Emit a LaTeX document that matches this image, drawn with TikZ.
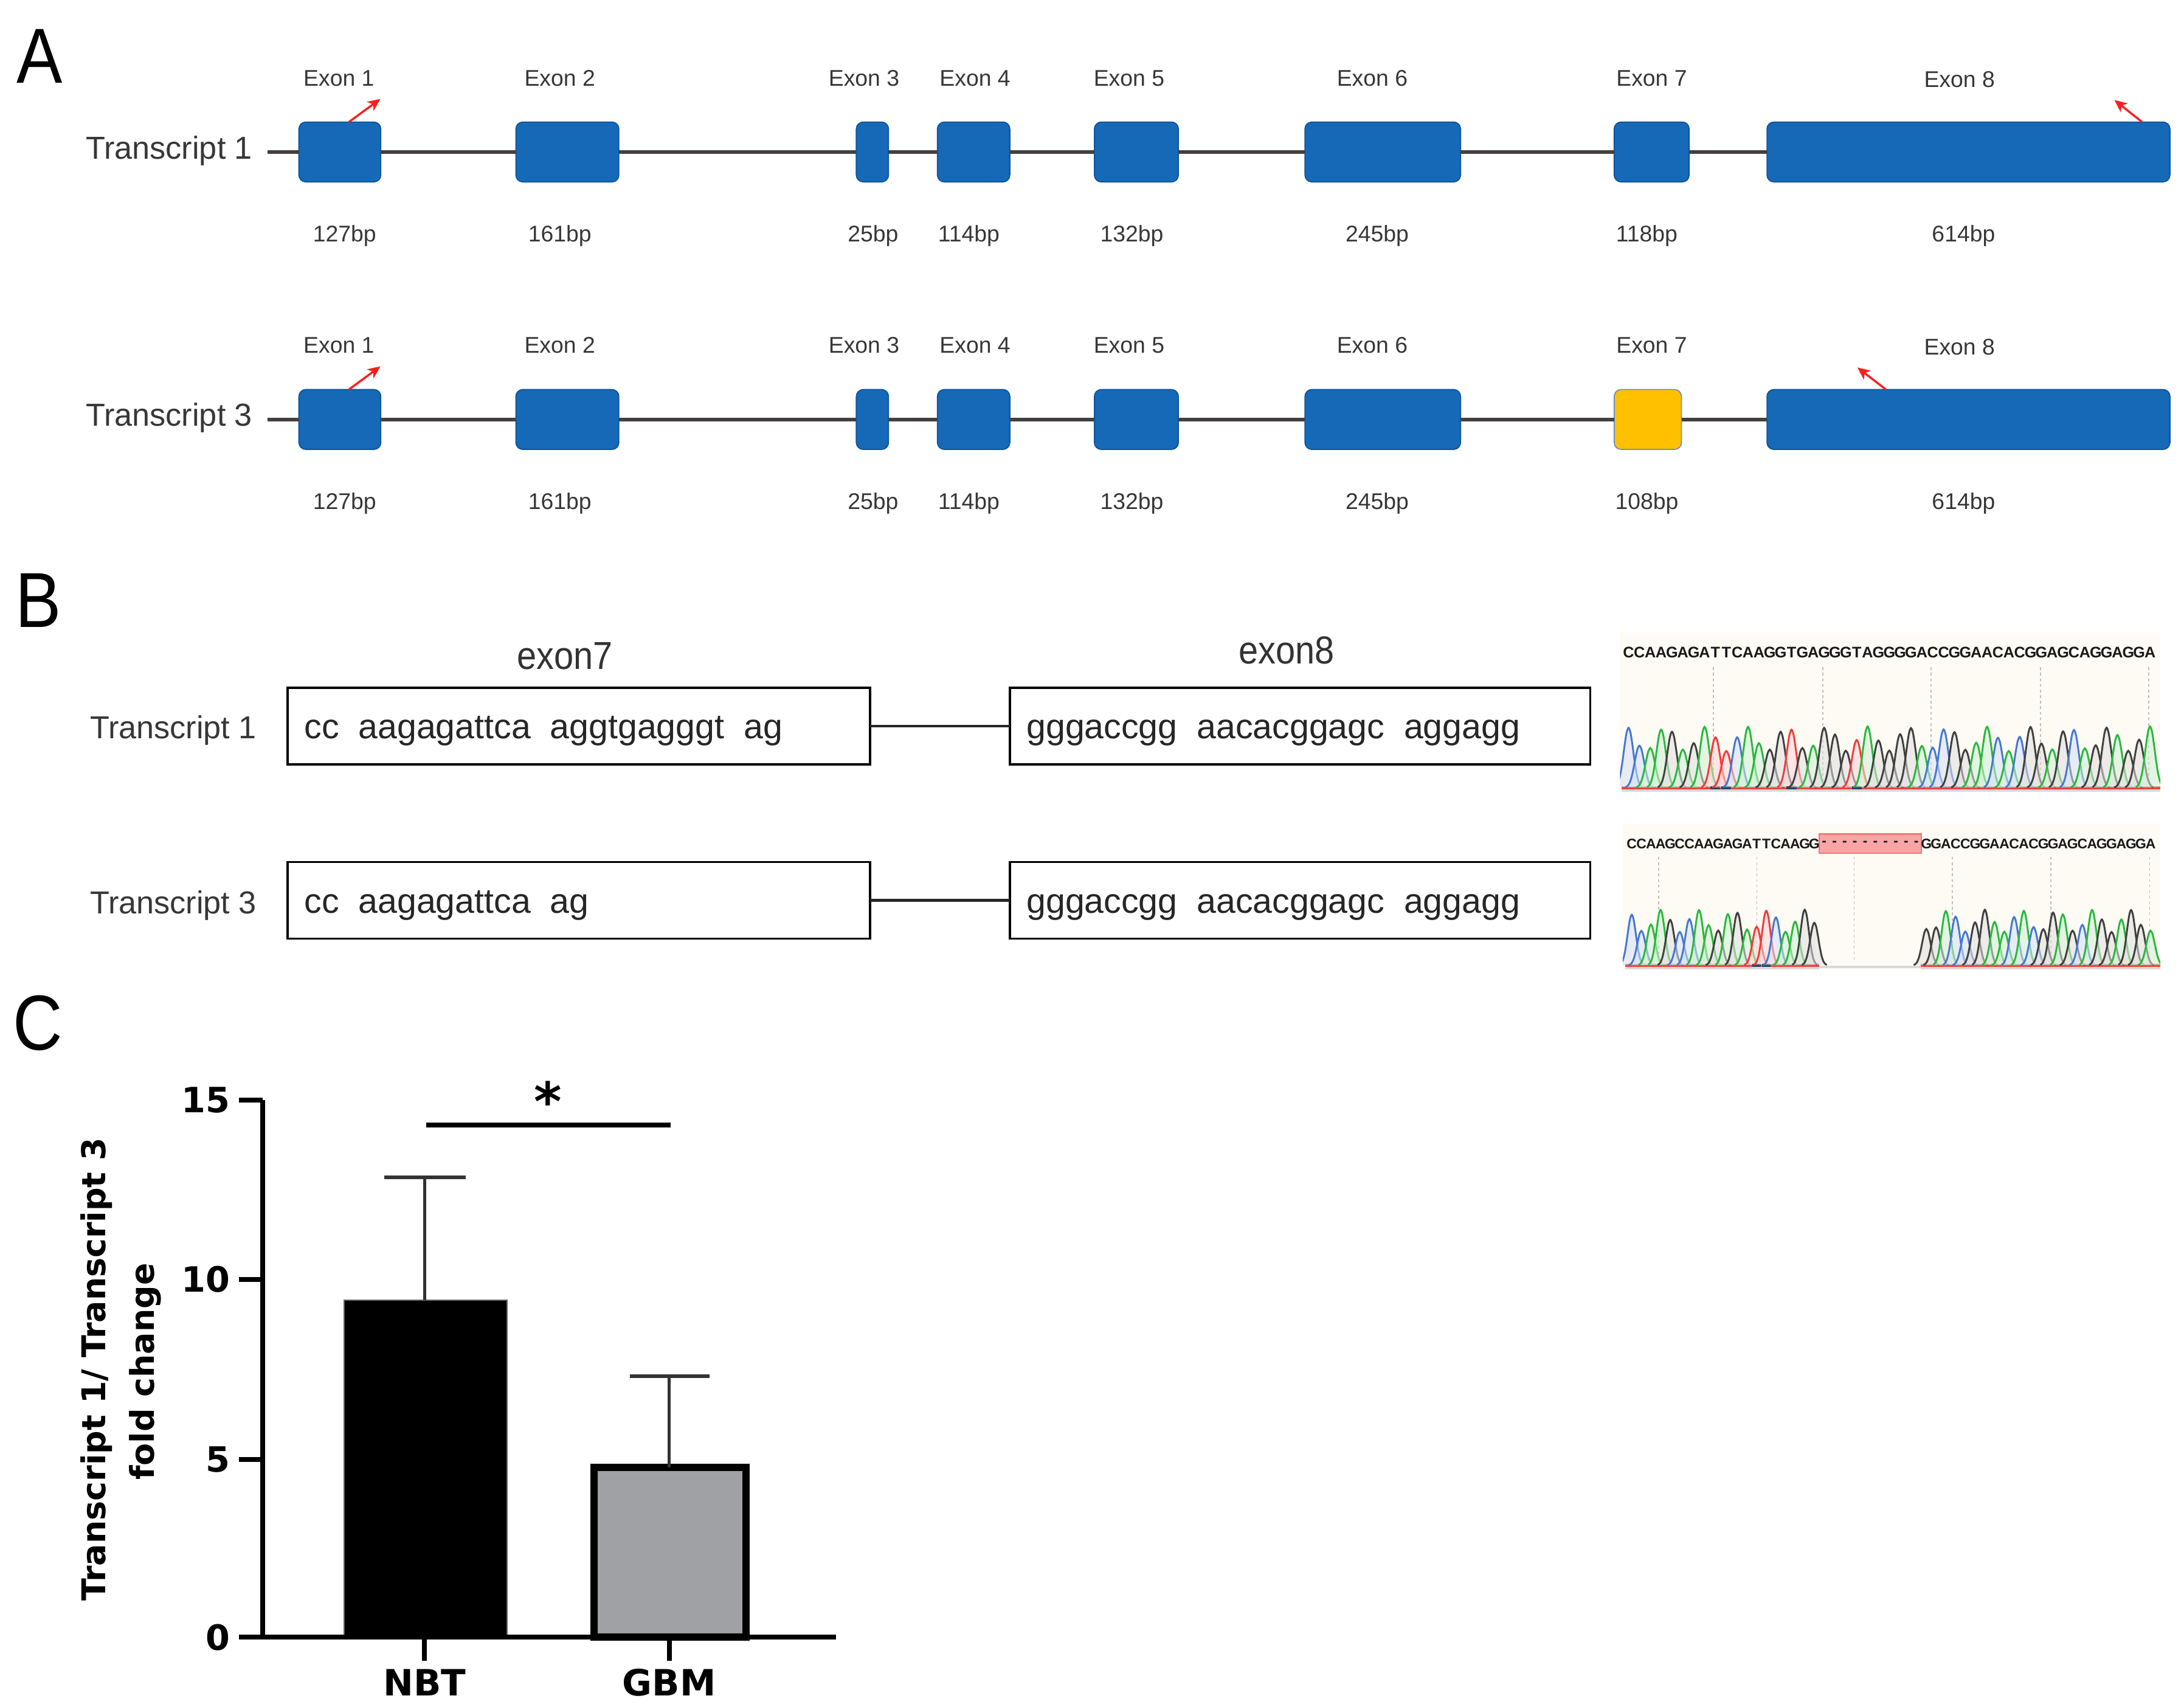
\documentclass[tikz,border=0pt]{standalone}
\usepackage{fontspec}
\usepackage{graphicx}
\setmainfont{Liberation Sans}
\newfontfamily\dvsans{DejaVu Sans}
\usetikzlibrary{arrows.meta}
\newcommand\myfs[1]{\fontsize{#1pt}{#1pt}\selectfont}
\definecolor{exblue}{RGB}{22,105,182}
\definecolor{exedge}{RGB}{14,84,156}
\definecolor{exyellow}{RGB}{255,192,0}
\definecolor{yedge}{RGB}{110,145,200}
\definecolor{introncol}{RGB}{68,64,64}
\definecolor{labgray}{RGB}{55,55,55}
\definecolor{primred}{RGB}{250,30,30}
\definecolor{trA}{RGB}{40,185,60}
\definecolor{trC}{RGB}{70,120,210}
\definecolor{trG}{RGB}{30,30,30}
\definecolor{trT}{RGB}{240,60,60}
\definecolor{chrombg}{RGB}{253,251,244}
\definecolor{basered}{RGB}{235,70,60}
\definecolor{mknavy}{RGB}{40,70,100}
\definecolor{delfill}{RGB}{247,165,165}
\definecolor{deledge}{RGB}{240,120,120}
\definecolor{gbmgray}{RGB}{160,161,165}
\tikzset{
  exon/.style={draw=exedge, fill=exblue, rounded corners=5pt, line width=0.8pt,
    inner sep=0pt, outer sep=0pt, minimum height=43pt},
  yellowexon/.style={draw=yedge, fill=exyellow},
  exlab/.style={anchor=base, inner sep=0pt, text=labgray, font=\myfs{16.3}},
  tlab/.style={anchor=base east, inner sep=0pt, text=labgray, font=\myfs{22.8}},
  intron/.style={draw=introncol, line width=2.6pt},
  primer/.style={draw=primred, line width=1.5pt, -{Stealth[length=9pt,width=8pt,inset=2.5pt]}},
  panlab/.style={anchor=base west, inner sep=0pt, font=\myfs{56}},
  seqbox/.style={draw=black, line width=1.5pt, fill=white, minimum height=55pt, inner sep=0pt, outer sep=0pt},
  seqline/.style={draw=black!85, line width=2pt},
  seqtxt/.style={anchor=base west, inner sep=0pt, font=\myfs{25}, text=black!85},
  hdr/.style={anchor=base, inner sep=0pt, font=\myfs{28}, text=black!80},
  pkA/.style={draw=trA, fill=trA!22, fill opacity=0.55, line width=1.3pt},
  pkC/.style={draw=trC, fill=trC!22, fill opacity=0.55, line width=1.3pt},
  pkG/.style={draw=trG!85, fill=trG!14, fill opacity=0.55, line width=1.3pt},
  pkT/.style={draw=trT, fill=trT!22, fill opacity=0.55, line width=1.3pt},
  mkA/.style={draw=none}, mkC/.style={draw=none}, mkG/.style={draw=none},
  mkT/.style={draw=mknavy, line width=2pt},
  chromch/.style={inner sep=0pt, anchor=center, text=black!90},
  vgrid/.style={draw=black!25, line width=0.8pt, dash pattern=on 2pt off 2pt},
  redbase/.style={draw=basered, line width=2pt},
  grayband/.style={draw=black!15, line width=2pt},
  axis/.style={draw=black, line width=3.5pt},
  ticklab/.style={anchor=east, inner sep=0pt, font=\dvsans\bfseries\myfs{25}},
  catlab/.style={anchor=base, inner sep=0pt, font=\dvsans\bfseries\myfs{26}},
  ylab/.style={anchor=base, rotate=90, inner sep=0pt, font=\dvsans\bfseries\myfs{23.5}},
  nbtbar/.style={fill=black, draw=black!60, line width=1pt, inner sep=0pt, outer sep=0pt, anchor=south},
  gbmbar/.style={fill=gbmgray, draw=black, line width=5.2pt, inner sep=0pt, outer sep=0pt, anchor=south},
  errbar/.style={draw=black!80, line width=2.3pt},
  sig/.style={draw=black, line width=3.4pt},
}
% #1 number, #2 y centre, #3 exon7 centre x, #4 exon7 width, #5 exon7 extra style,
% #6 exon7 bp, #7 exon8 primer start x, #8 exon8 primer end x
\newcommand\transcriptrow[8]{%
  \node[exon, minimum width=58.8pt] (a#1e1) at (244,#2) {};
  \node[exon, minimum width=73.9pt] (a#1e2) at (407.35,#2) {};
  \node[exon, minimum width=23.1pt] (a#1e3) at (626.35,#2) {};
  \node[exon, minimum width=52pt] (a#1e4) at (699,#2) {};
  \node[exon, minimum width=60.3pt] (a#1e5) at (815.85,#2) {};
  \node[exon, minimum width=111.7pt] (a#1e6) at (992.75,#2) {};
  \node[exon, #5, minimum width=#4pt] (a#1e7) at (#3,#2) {};
  \node[exon, minimum width=289.3pt] (a#1e8) at (1413.25,#2) {};
  \coordinate (a#1start) at (191.9,#2);
  \draw[intron] (a#1start) -- (a#1e1.west);
  \draw[intron] (a#1e1.east) -- (a#1e2.west);
  \draw[intron] (a#1e2.east) -- (a#1e3.west);
  \draw[intron] (a#1e3.east) -- (a#1e4.west);
  \draw[intron] (a#1e4.east) -- (a#1e5.west);
  \draw[intron] (a#1e5.east) -- (a#1e6.west);
  \draw[intron] (a#1e6.east) -- (a#1e7.west);
  \draw[intron] (a#1e7.east) -- (a#1e8.west);
  \node[tlab] (a#1name) at (181.4,{#2+4.9}) {Transcript #1};
  \node[exlab] (a#1l1) at (243.3,{#2-47.5}) {Exon 1};
  \node[exlab] (a#1l2) at (401.9,{#2-47.5}) {Exon 2};
  \node[exlab] (a#1l3) at (620.3,{#2-47.5}) {Exon 3};
  \node[exlab] (a#1l4) at (700,{#2-47.5}) {Exon 4};
  \node[exlab] (a#1l5) at (810.6,{#2-47.5}) {Exon 5};
  \node[exlab] (a#1l6) at (985.2,{#2-47.5}) {Exon 6};
  \node[exlab] (a#1l7) at (1185.8,{#2-47.5}) {Exon 7};
  \node[exlab] (a#1l8) at (1406.8,{#2-46.5}) {Exon 8};
  \node[exlab] (a#1b1) at (247.4,{#2+64.4}) {127bp};
  \node[exlab] (a#1b2) at (401.9,{#2+64.4}) {161bp};
  \node[exlab] (a#1b3) at (626.8,{#2+64.4}) {25bp};
  \node[exlab] (a#1b4) at (695.5,{#2+64.4}) {114bp};
  \node[exlab] (a#1b5) at (812.6,{#2+64.4}) {132bp};
  \node[exlab] (a#1b6) at (988.7,{#2+64.4}) {245bp};
  \node[exlab] (a#1b7) at (1182.3,{#2+64.4}) {#6};
  \node[exlab] (a#1b8) at (1409.7,{#2+64.4}) {614bp};
  \coordinate (a#1p1s) at (250.5,{#2-21.5});
  \coordinate (a#1p1e) at (273.1,{#2-38.1});
  \draw[primer] (a#1p1s) -- (a#1p1e);
  \coordinate (a#1p8s) at (#7,{#2-21.5});
  \coordinate (a#1p8e) at (#8,{#2-37.3});
  \draw[primer] (a#1p8s) -- (a#1p8e);
}
% #1 list, #2 first centre x, #3 spacing, #4 baseline y, #5 max height, #6 phase
\newcommand\chromtrace[6]{%
  \foreach \L [count=\i] in {#1}{%
    \pgfmathsetmacro\xc{#2+(\i-1)*#3}%
    \pgfmathsetmacro\hh{#5*(0.80+0.20*sin(\i*97+#6))}%
    \draw[pk\L] plot[domain=-1.3:1.3, samples=15, smooth, variable=\t]
      ({\xc+\t*#3},{#4-\hh*exp(0-(\t)*(\t)/0.38)});
    \draw[mk\L] ({\xc-0.45*#3},#4) -- ({\xc+0.45*#3},#4);
  }%
}
% #1 list, #2 first centre x, #3 spacing, #4 y, #5 font size, #6 name prefix
\newcommand\chromletters[6]{%
  \foreach \L [count=\i] in {#1}{%
    \node[chromch, font=\bfseries\myfs{#5}] (#6\i) at ({#2+(\i-1)*#3},#4) {\L};
  }%
}
\begin{document}
\begin{tikzpicture}[x=1pt,y=-1pt]
\useasboundingbox (0,0) rectangle (1568,1224.9);
\fill[white] (0,0) rectangle (1568,1224.9);

% ---------------- Panel A ----------------
\node[panlab] (pA) at (12,59.4) {\scalebox{0.88}[1]{A}};
\transcriptrow{1}{109.1}{1185.8}{53.8}{}{118bp}{1537.9}{1518}
\transcriptrow{3}{301.1}{1183.05}{48.3}{yellowexon}{108bp}{1354}{1333.5}

% ---------------- Panel B ----------------
\node[panlab] (pB) at (11,450.3) {\scalebox{0.88}[1]{B}};
\node[hdr] (h7) at (405.7,480.5) {\scalebox{0.9}[1]{exon7}};
\node[hdr] (h8) at (923.7,476.6) {\scalebox{0.9}[1]{exon8}};
\node[seqbox, minimum width=418.2pt] (b1e7) at (415.6,521.15) {};
\node[seqbox, minimum width=416.7pt] (b1e8) at (933.35,521.15) {};
\draw[seqline] (b1e7.east) -- (b1e8.west);
\node[seqbox, minimum width=418.2pt] (b3e7) at (415.6,646.2) {};
\node[seqbox, minimum width=416.7pt] (b3e8) at (933.35,646.2) {};
\draw[seqline] (b3e7.east) -- (b3e8.west);
\node[tlab] (b1name) at (184.4,530.2) {Transcript 1};
\node[tlab] (b3name) at (184.4,655.9) {Transcript 3};
\node[seqtxt] (b1s7) at (218.3,530.2) {cc\ \ aagagattca\ \ aggtgagggt\ \ ag};
\node[seqtxt] (b1s8) at (736.8,530.2) {gggaccgg\ \ aacacggagc\ \ aggagg};
\node[seqtxt] (b3s7) at (218.3,655.6) {cc\ \ aagagattca\ \ ag};
\node[seqtxt] (b3s8) at (736.8,655.6) {gggaccgg\ \ aacacggagc\ \ aggagg};

% chromatogram top
\fill[chrombg] (1163,454) rectangle (1551,568);
\foreach \gx in {1230.2,1308.7,1386.4,1464.8,1542.7}{\draw[vgrid] (\gx,479) -- (\gx,563);}
\draw[redbase] (1164,565.5) -- (1551,565.5);
\draw[grayband] (1164,567.5) -- (1551,567.5);
\begin{scope}
\clip (1163,454) rectangle (1551,568);
\chromtrace{C,C,A,A,G,A,G,A,T,T,C,A,A,G,G,T,G,A,G,G,G,T,A,G,G,G,G,A,C,C,G,G,A,A,C,A,C,G,G,A,G,C,A,G,G,A,G,G,A}{1169.2}{7.8}{565.5}{44}{20}
\end{scope}
\chromletters{C,C,A,A,G,A,G,A,T,T,C,A,A,G,G,T,G,A,G,G,G,T,A,G,G,G,G,A,C,C,G,G,A,A,C,A,C,G,G,A,G,C,A,G,G,A,G,G,A}{1169.2}{7.8}{468.5}{11}{tq}

% chromatogram bottom
\fill[chrombg] (1165,591) rectangle (1551,696);
\foreach \gx in {1191,1261.3,1331.2,1401.5,1472.4,1543.3}{\draw[vgrid] (\gx,615) -- (\gx,690);}
\draw[redbase] (1167,693) -- (1306,693);
\draw[redbase] (1379,693) -- (1551,693);
\draw[grayband] (1306,694) -- (1379,694);
\draw[grayband] (1167,695) -- (1306,695);
\draw[grayband] (1379,695) -- (1551,695);
\begin{scope}
\clip (1165,591) rectangle (1551,696);
\chromtrace{C,C,A,A,G,C,C,A,A,G,A,G,A,T,T,C,A,A,G,G}{1171.5}{6.9}{693}{40}{50}
\chromtrace{G,G,A,C,C,G,G,A,A,C,A,C,G,G,A,G,C,A,G,G,A,G,G,A}{1383}{7.0}{693}{40}{130}
\end{scope}
\node[draw=deledge, fill=delfill, line width=1pt, minimum width=73.5pt, minimum height=13.8pt, inner sep=0pt] (del) at (1342.75,605.6) {};
\foreach \k in {1,...,10}{\node[chromch, font=\bfseries\myfs{10}] (dash\k) at ({1306+(\k-0.5)*7.35},605.2) {-};}
\chromletters{C,C,A,A,G,C,C,A,A,G,A,G,A,T,T,C,A,A,G,G}{1171.5}{6.9}{605.6}{10}{bqa}
\chromletters{G,G,A,C,C,G,G,A,A,C,A,C,G,G,A,G,C,A,G,G,A,G,G,A}{1383}{7.0}{605.6}{10}{bqb}

% ---------------- Panel C ----------------
\node[panlab] (pC) at (9,753.8) {\scalebox{0.88}[1]{C}};
\node[nbtbar, minimum width=117.1pt, minimum height=241.8pt] (nbt) at (305.65,1175.2) {};
\node[gbmbar, minimum width=109.2pt, minimum height=121.7pt] (gbm) at (481.1,1175.2) {};
\coordinate (nbtE) at (304.9,845.1);
\coordinate (nbtEl) at (275.8,845.1);
\coordinate (nbtEr) at (334.3,845.1);
\draw[errbar] (nbt.north -| nbtE) -- (nbtE);
\draw[errbar] (nbtEl) -- (nbtEr);
\coordinate (gbmE) at (480.5,987.8);
\coordinate (gbmEl) at (452.2,987.8);
\coordinate (gbmEr) at (509.5,987.8);
\draw[errbar] (gbm.north -| gbmE) -- (gbmE);
\draw[errbar] (gbmEl) -- (gbmEr);
\draw[axis] (188.6,789.7) -- (188.6,1175.2);
\draw[axis] (171.6,1175.2) -- (600.4,1175.2);
\foreach \v/\yy in {0/1175.2,5/1047.6,10/918.3,15/789.7}{%
  \draw[axis] (171.6,\yy) -- (188.6,\yy);
  \node[ticklab] (tk\v) at (165.5,\yy) {\v};
}
\draw[axis] (304.9,1175.2) -- (304.9,1192);
\draw[axis] (480.5,1175.2) -- (480.5,1192);
\node[catlab] (cNBT) at (304.9,1217.2) {NBT};
\node[catlab] (cGBM) at (480.5,1217.2) {GBM};
\coordinate (sigL) at (306,807.5);
\coordinate (sigR) at (481.3,807.5);
\draw[sig] (sigL) -- (sigR);
\node[anchor=base, inner sep=0pt, font=\dvsans\bfseries\myfs{38}] (star) at (393.3,804.4) {*};
\node[ylab] (yl1) at (75.6,983) {Transcript 1/ Transcript 3};
\node[ylab] (yl2) at (110.8,984.6) {fold change};
\end{tikzpicture}
\end{document}
